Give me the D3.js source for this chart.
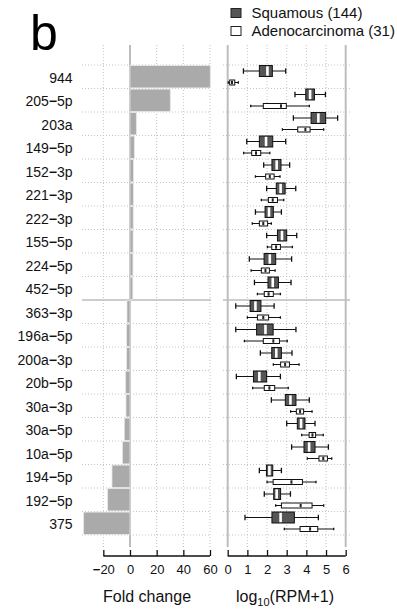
<!DOCTYPE html>
<html><head><meta charset="utf-8">
<script src="https://cdn.jsdelivr.net/npm/d3@7"></script>
<style>
html,body{margin:0;padding:0;background:#fff;}
svg{display:block;font-family:"Liberation Sans",Arial,Helvetica,sans-serif;}
</style></head>
<body>
<script>
// ---------- data ----------
const mirnas = ["944","205−5p","203a","149−5p","152−3p","221−3p","222−3p","155−5p","224−5p","452−5p",
  "363−3p","196a−5p","200a−3p","20b−5p","30a−3p","30a−5p","10a−5p","194−5p","192−5p","375"];
const foldChange = [60.2,30.2,4.75,3.25,2.6,2.5,2.4,2.3,2.2,2.1,
  -2.25,-2.5,-2.5,-3.25,-3,-4.25,-5.6,-13.5,-16.75,-34.75];
// [whisker low, Q1, median, Q3, whisker high] in log10(RPM+1)
const squamous = [
  [0.80,1.61,2.02,2.27,2.95],[3.42,3.97,4.19,4.41,4.97],[3.34,4.24,4.61,4.98,5.59],[0.97,1.61,1.95,2.29,2.95],
  [1.83,2.25,2.49,2.71,3.15],[1.98,2.47,2.69,2.92,3.46],[1.41,1.90,2.10,2.32,2.73],[1.98,2.53,2.76,3.00,3.51],
  [1.10,1.85,2.14,2.44,3.25],[1.36,2.05,2.29,2.58,3.22],[0.41,1.14,1.41,1.69,2.36],[0.41,1.47,1.92,2.31,3.47],
  [1.66,2.24,2.47,2.73,3.27],[0.44,1.31,1.61,1.98,2.68],[2.22,2.93,3.19,3.47,4.15],[3.00,3.54,3.73,3.93,4.44],
  [3.25,3.88,4.14,4.44,5.12],[1.61,1.97,2.12,2.29,2.73],[1.86,2.34,2.49,2.69,3.19],[0.88,2.25,2.69,3.39,4.61]];
const adeno = [
  [0.03,0.10,0.22,0.36,0.54],[1.17,1.81,2.71,2.98,4.15],[2.78,3.56,3.95,4.19,4.88],[0.81,1.22,1.44,1.68,2.14],
  [1.41,1.93,2.14,2.36,2.66],[1.71,2.07,2.29,2.53,2.85],[1.25,1.61,1.81,2.03,2.22],[2.02,2.24,2.46,2.68,3.29],
  [1.19,1.71,1.92,2.12,2.41],[1.51,1.86,2.08,2.32,2.68],[1.00,1.51,1.81,2.08,2.68],[0.85,1.81,2.32,2.63,3.03],
  [2.32,2.69,2.92,3.14,3.63],[1.27,1.86,2.12,2.39,3.08],[3.20,3.49,3.68,3.86,4.29],[3.76,4.14,4.31,4.47,4.86],
  [4.05,4.64,4.86,5.07,5.29],[2.00,2.31,3.24,3.80,4.49],[2.44,2.73,3.71,4.29,4.88],[2.88,3.68,4.19,4.58,5.39]];
const foldTicks = [-20,0,20,40,60];
const logTicks = [0,1,2,3,4,5,6];
const legendLabels = ["Squamous (144)","Adenocarcinoma (31)"];

// ---------- layout ----------
const W = 397, H = 611;
const svg = d3.select("body").append("svg").attr("width", W).attr("height", H);
const font = '"Liberation Sans",Arial,Helvetica,sans-serif';

const y = d3.scaleBand().domain(mirnas).range([65, 535]).padding(0);
const xL = d3.scaleLinear().domain([-20, 60]).range([103.33, 210]);
const xR = d3.scaleLinear().domain([0, 6]).range([227.7, 345.7]);
const leftPanel = [82, 211], rightPanel = [223, 350];
const panelTop = 45, panelBottom = 547;
const gridCol = "#c4c4c4";

// write text with a heavy minus sign, as in the reference
function withMinus(sel, str) {
  const parts = String(str).split("−");
  parts.forEach((p, k) => {
    if (k > 0) sel.append("tspan").attr("font-weight", "bold").text("−");
    if (p) sel.append("tspan").text(p);
  });
}

// ---------- grid ----------
function grid(xs, ticks, panel, solidVals) {
  const g = svg.append("g");
  ticks.forEach(t => {
    const solid = solidVals.includes(t);
    g.append("line").attr("x1", xs(t)).attr("x2", xs(t)).attr("y1", panelTop).attr("y2", panelBottom)
      .attr("stroke", solid ? "#bdbdbd" : gridCol).attr("stroke-width", solid ? 2 : 1)
      .attr("stroke-dasharray", solid ? null : "1,2");
  });
  d3.range(mirnas.length + 1).forEach(i => {
    const yy = i < mirnas.length ? y(mirnas[i]) : y.range()[1];
    const mid = i === 10;
    g.append("line").attr("x1", panel[0]).attr("x2", panel[1]).attr("y1", yy).attr("y2", yy)
      .attr("stroke", mid ? "#bdbdbd" : gridCol).attr("stroke-width", mid ? 1.5 : 1)
      .attr("stroke-dasharray", mid ? null : "1,2");
  });
}
grid(xL, foldTicks, leftPanel, [0]);
grid(xR, logTicks, rightPanel, [0, 6]);

// ---------- bars ----------
svg.append("g").selectAll("rect").data(mirnas).join("rect")
  .attr("x", (d, i) => Math.min(xL(0), xL(foldChange[i])))
  .attr("width", (d, i) => Math.abs(xL(foldChange[i]) - xL(0)))
  .attr("y", d => y(d) + 0.6)
  .attr("height", y.bandwidth() - 1.2)
  .attr("fill", "#aaaaaa").attr("stroke", "#e6e6e6").attr("stroke-width", 0.8);

// ---------- boxplots ----------
function boxes(stats, offset, h, fill, medCol, medW) {
  const g = svg.append("g");
  stats.forEach((s, i) => {
    const cy = y(mirnas[i]) + offset;
    const cap = h / 2;
    g.append("line").attr("x1", xR(s[0])).attr("x2", xR(s[4])).attr("y1", cy).attr("y2", cy)
      .attr("stroke", "#111").attr("stroke-width", 1);
    [s[0], s[4]].forEach(v => g.append("line").attr("x1", xR(v)).attr("x2", xR(v))
      .attr("y1", cy - cap / 2).attr("y2", cy + cap / 2).attr("stroke", "#111").attr("stroke-width", 1.3));
    g.append("rect").attr("x", xR(s[1])).attr("width", xR(s[3]) - xR(s[1]))
      .attr("y", cy - h / 2).attr("height", h).attr("fill", fill).attr("stroke", "#111").attr("stroke-width", 1);
    g.append("line").attr("x1", xR(s[2])).attr("x2", xR(s[2])).attr("y1", cy - h / 2 + 0.8).attr("y2", cy + h / 2 - 0.8)
      .attr("stroke", medCol).attr("stroke-width", medW);
  });
}
boxes(squamous, 6, 11, "#555555", "#ffffff", 2.6);
boxes(adeno, 17.5, 5, "#ffffff", "#222222", 2);

// ---------- row labels ----------
svg.append("g").selectAll("text").data(mirnas).join("text")
  .attr("x", 72.5).attr("y", d => y(d) + y.bandwidth() / 2 + 6)
  .attr("text-anchor", "end").attr("font-size", 14).attr("fill", "#111")
  .each(function(d) { withMinus(d3.select(this), d); });

// ---------- axes ----------
function axis(xs, ticks, x0, x1) {
  const g = svg.append("g").attr("transform", "translate(0,556)");
  g.append("line").attr("x1", x0).attr("x2", x1).attr("stroke", "#111").attr("stroke-width", 1.3);
  const ax = d3.axisBottom(xs).tickValues(ticks).tickSize(6).tickSizeOuter(0)
    .tickFormat(d => d < 0 ? "−" + Math.abs(d) : String(d));
  const a = g.append("g").call(ax);
  a.select(".domain").remove();
  a.selectAll(".tick line").attr("stroke", "#111").attr("stroke-width", 1.3).attr("y1", -6).attr("y2", 0);
  a.selectAll(".tick text").attr("y", 18).attr("dy", 0).attr("font-size", 13).attr("font-family", font).attr("fill", "#111")
    .each(function() { const s = d3.select(this); const t = s.text(); s.text(null); withMinus(s, t); });
}
axis(xL, foldTicks, xL(-20), xL(60));
axis(xR, logTicks, xR(0), xR(6));

svg.append("text").attr("x", 147).attr("y", 602).attr("text-anchor", "middle")
  .attr("font-size", 16).attr("fill", "#111").text("Fold change");
const lt = svg.append("text").attr("x", 285).attr("y", 602).attr("text-anchor", "middle")
  .attr("font-size", 16).attr("fill", "#111");
lt.append("tspan").text("log");
lt.append("tspan").attr("font-size", 11).attr("dy", 4).text("10");
lt.append("tspan").attr("dy", -4).text("(RPM+1)");

// ---------- panel letter ----------
svg.append("text").attr("x", 30).attr("y", 50).attr("font-size", 50).attr("fill", "#000").text("b");

// ---------- legend ----------
const lg = svg.append("g");
legendLabels.forEach((t, i) => {
  lg.append("rect").attr("x", 231).attr("y", 8.5 + i * 18).attr("width", 10).attr("height", 9)
    .attr("fill", i === 0 ? "#555555" : "#ffffff").attr("stroke", "#222").attr("stroke-width", 1);
  lg.append("text").attr("x", 251.5).attr("y", 18 + i * 18).attr("font-size", 15).attr("fill", "#111").text(t);
});
</script>
</body></html>
